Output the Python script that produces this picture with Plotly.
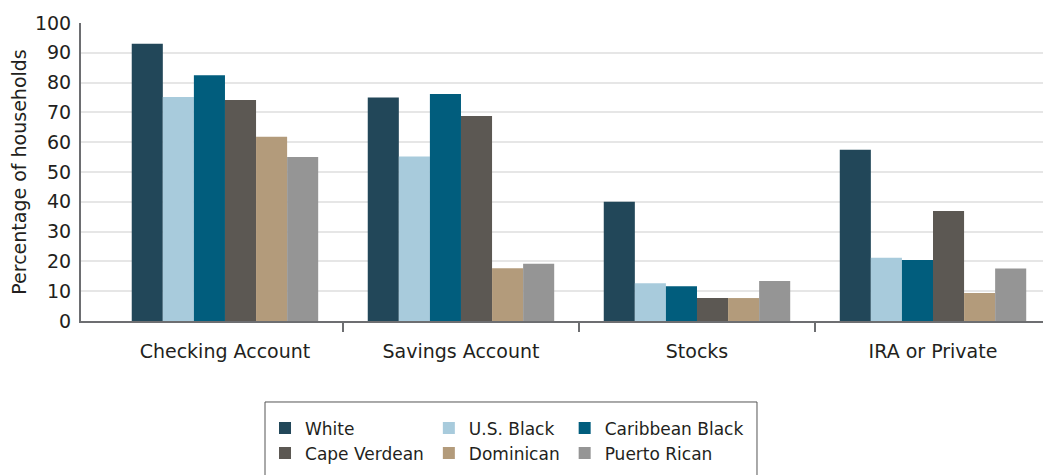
import plotly.graph_objects as go

categories = ["Checking Account", "Savings Account", "Stocks", "IRA or Private"]
series_names = ["White", "U.S. Black", "Caribbean Black", "Cape Verdean", "Dominican", "Puerto Rican"]
white = [93, 75, 40, 57.5]
us_black = [75.2, 55.2, 12.7, 21.2]
caribbean_black = [82.5, 76.2, 11.7, 20.5]
cape_verdean = [74.2, 68.8, 7.7, 36.9]
dominican = [61.8, 17.7, 7.7, 9.4]
puerto_rican = [55, 19.2, 13.4, 17.6]
y_ticks = [0, 10, 20, 30, 40, 50, 60, 70, 80, 90, 100]

values = [white, us_black, caribbean_black, cape_verdean, dominican, puerto_rican]
colors = ["#224759", "#a8cbdc", "#015d7d", "#5c5853", "#b39b7b", "#959595"]
groups = ["a", "b", "c", "a", "b", "c"]

FONT = "DejaVu Sans"
TXT = "#231f20"
AX = "#6d6e71"

fig = go.Figure()
for name, vals, col, grp in zip(series_names, values, colors, groups):
    fig.add_trace(go.Bar(x=categories, y=vals, name=name, marker_color=col,
                         marker_line_width=0, legendgroup=grp))

# invisible helper trace for overlay axis showing category boundary ticks
fig.add_trace(go.Scatter(x=[0.5], y=[0], xaxis="x2", mode="markers",
                         marker=dict(opacity=0), showlegend=False, hoverinfo="skip"))

fig.update_layout(
    width=1043, height=467,
    margin=dict(l=73, r=0, t=15, b=154, autoexpand=False),
    paper_bgcolor="white", plot_bgcolor="white",
    font=dict(family=FONT, color=TXT, size=16),
    barmode="group", bargap=0.21, bargroupgap=0,
    xaxis=dict(type="category", range=[-0.61, 3.5], showgrid=False, automargin=False,
               showline=True, linecolor=AX, linewidth=2, ticks="",
               tickfont=dict(size=19, family=FONT, color=TXT), ticklabelstandoff=12),
    xaxis2=dict(overlaying="x", range=[-0.61, 3.5], tickvals=[0.5, 1.5, 2.5],
                ticks="outside", ticklen=10, tickwidth=2, tickcolor=AX, automargin=False,
                showticklabels=False, showgrid=False, showline=False, zeroline=False,
                anchor="y", side="bottom"),
    yaxis=dict(range=[0, 100], tickvals=y_ticks, showgrid=True, gridcolor="#e6e6e6",
               gridwidth=2, showline=True, linecolor=AX, linewidth=2, zeroline=False,
               automargin=False,
               ticks="", tickfont=dict(size=19, family=FONT, color=TXT), ticklabelstandoff=4,
               title=dict(text="Percentage of households", font=dict(size=19, family=FONT, color=TXT),
                          standoff=6)),
    legend=dict(orientation="h", traceorder="grouped", tracegroupgap=0,
                x=0.1897, xanchor="left", y=-0.3, yanchor="top",
                borderwidth=0, bgcolor="rgba(0,0,0,0)",
                font=dict(size=17, family=FONT, color=TXT)),
    shapes=[dict(type="rect", xref="paper", yref="paper",
                 x0=0.1897, x1=0.6969, y0=-0.2718, y1=-0.58,
                 line=dict(color="#555555", width=1), fillcolor="rgba(0,0,0,0)", layer="below")],
    showlegend=True,
)

fig.write_html("out.html")
